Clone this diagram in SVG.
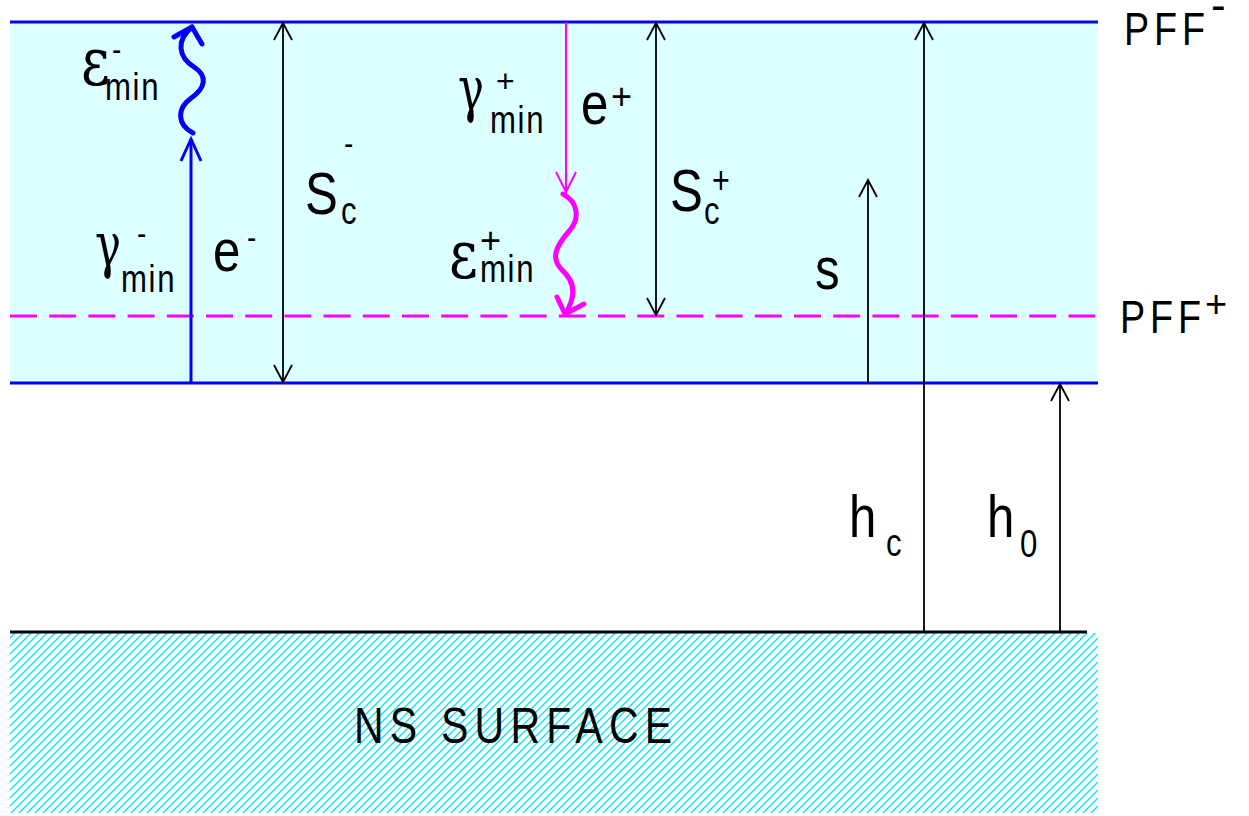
<svg xmlns="http://www.w3.org/2000/svg" width="1249" height="816" viewBox="0 0 1249 816">
<defs>
<style>
text{font-family:"Liberation Sans",Arial,sans-serif;fill:#000}
.big{font-size:60px}
.sub{font-size:38px;letter-spacing:2px}
.sup{font-size:34px}
.gr{font-family:"DejaVu Serif","Liberation Serif",serif;font-size:62px}
.eps{font-family:"DejaVu Serif","Liberation Serif",serif;font-size:68px}
.blk{stroke:#000;stroke-width:1.8;fill:none}
.wave{fill:none;stroke-width:5;stroke-linecap:round;stroke-linejoin:round}
</style>
<pattern id="hatch" patternUnits="userSpaceOnUse" width="8" height="8">
<path d="M-1,9 L9,-1 M-1,1 L1,-1 M7,9 L9,7" stroke="#00E6F0" stroke-width="1.3"/>
</pattern>
<marker id="ak" markerUnits="userSpaceOnUse" orient="auto-start-reverse" markerWidth="40" markerHeight="40" refX="0" refY="0" viewBox="-20 -20 40 40" overflow="visible">
<path d="M-17,-9 L0,0 L-17,9" fill="none" stroke="#000" stroke-width="1.8"/>
</marker>
<marker id="ab" markerUnits="userSpaceOnUse" orient="auto" markerWidth="40" markerHeight="40" refX="0" refY="0" viewBox="-20 -20 40 40" overflow="visible">
<path d="M-22,-10 L0,0 L-22,10" fill="none" stroke="#0000FF" stroke-width="3"/>
</marker>
<marker id="am" markerUnits="userSpaceOnUse" orient="auto" markerWidth="40" markerHeight="40" refX="0" refY="0" viewBox="-20 -20 40 40" overflow="visible">
<path d="M-20,-10 L0,0 L-20,10" fill="none" stroke="#FF00FF" stroke-width="2"/>
</marker>
</defs>

<g id="band">
<rect x="10" y="22" width="1088" height="361" fill="#DCFFFF"/>
</g>
<g id="ns-surface">
<rect x="10" y="633" width="1088" height="180" fill="url(#hatch)"/>
<line x1="10" y1="632" x2="1087" y2="632" stroke="#000" stroke-width="3"/>
<text transform="translate(354,743) scale(0.82,1)" style="font-size:50px;letter-spacing:7.6px">NS SURFACE</text>
</g>
<g id="pff-minus">
<line x1="10" y1="22" x2="1098" y2="22" stroke="#0000FF" stroke-width="3"/>
<text transform="translate(1124,45) scale(0.82,1)" style="font-size:46px;letter-spacing:6px">PFF</text>
<text x="1211" y="20" style="font-size:44px">-</text>
</g>
<g id="pff-plus">
<line x1="10" y1="316" x2="1098" y2="316" stroke="#FF00FF" stroke-width="3" stroke-dasharray="27 12.2"/>
<text transform="translate(1120,333) scale(0.82,1)" style="font-size:46px;letter-spacing:6px">PFF</text>
<text x="1205" y="317" style="font-size:38px">+</text>
</g>
<g id="base">
<line x1="10" y1="383" x2="1098" y2="383" stroke="#0000FF" stroke-width="3"/>
</g>

<g id="connectors">
<line x1="191" y1="383" x2="191" y2="139" stroke="#0000FF" stroke-width="3" marker-end="url(#ab)"/>
<path class="wave" stroke="#0000FF" d="M193,133 C176,124 178,108 190,99 C206,88 208,76 194,67 C178,57 176,40 192,27"/>
<path class="wave" stroke="#0000FF" d="M174,37 L192,27 L202,44"/>
<line class="blk" x1="283" y1="23" x2="283" y2="382" marker-start="url(#ak)" marker-end="url(#ak)"/>
<line x1="566" y1="22" x2="566" y2="192" stroke="#FF00FF" stroke-width="2" marker-end="url(#am)"/>
<path class="wave" stroke="#FF00FF" d="M563,194 C578,202 580,218 570,230 C556,246 550,258 562,270 C578,284 574,300 565,314"/>
<path class="wave" stroke="#FF00FF" d="M557,297 L565,314 L584,304"/>
<line class="blk" x1="656" y1="23" x2="656" y2="315" marker-start="url(#ak)" marker-end="url(#ak)"/>
<line class="blk" x1="868" y1="383" x2="868" y2="180" marker-end="url(#ak)"/>
<line class="blk" x1="924" y1="632" x2="924" y2="23" marker-end="url(#ak)"/>
<line class="blk" x1="1060" y1="632" x2="1060" y2="384" marker-end="url(#ak)"/>
</g>

<g id="label-eps-minus">
<text class="eps" transform="translate(81,85) scale(0.82,1)">ε</text>
<text class="sub" transform="translate(105,100) scale(0.82,1)">min</text>
<text class="sup" transform="translate(112,61) scale(0.82,1)">-</text>
</g>
<g id="label-gamma-minus">
<text class="gr" transform="translate(95,266) scale(0.7,1)">γ</text>
<text class="sub" transform="translate(121,292) scale(0.82,1)">min</text>
<text class="sup" transform="translate(137,245) scale(0.82,1)">-</text>
</g>
<g id="label-e-minus">
<text class="big" transform="translate(213,271) scale(0.82,1)">e</text>
<text class="sup" transform="translate(247,249) scale(0.82,1)">-</text>
</g>
<g id="label-sc-minus">
<text class="big" transform="translate(305,214) scale(0.82,1)">S</text>
<text class="sub" transform="translate(341,224) scale(0.82,1)">c</text>
<text class="sup" transform="translate(344,155) scale(0.82,1)">-</text>
</g>
<g id="label-gamma-plus">
<text class="gr" transform="translate(458,110) scale(0.7,1)">γ</text>
<text class="sub" transform="translate(490,133) scale(0.82,1)">min</text>
<text x="496" y="92" style="font-size:32px">+</text>
</g>
<g id="label-e-plus">
<text class="big" transform="translate(581,124) scale(0.82,1)">e</text>
<text x="611" y="109" style="font-size:36px">+</text>
</g>
<g id="label-eps-plus">
<text class="eps" transform="translate(449,278) scale(0.82,1)">ε</text>
<text class="sub" transform="translate(480,282) scale(0.82,1)">min</text>
<text x="480" y="253" style="font-size:36px">+</text>
</g>
<g id="label-sc-plus">
<text class="big" transform="translate(670,211) scale(0.82,1)">S</text>
<text class="sub" transform="translate(704,224) scale(0.82,1)">c</text>
<text transform="translate(712,193) scale(0.8,1)" style="font-size:38px">+</text>
</g>
<g id="label-s">
<text class="big" transform="translate(815,289) scale(0.82,1)">s</text>
</g>
<g id="label-hc">
<text class="big" transform="translate(849,537) scale(0.82,1)">h</text>
<text class="sub" transform="translate(886,556) scale(0.82,1)">c</text>
</g>
<g id="label-h0">
<text class="big" transform="translate(987,537) scale(0.82,1)">h</text>
<text class="sub" transform="translate(1020,557) scale(0.82,1)">0</text>
</g>
</svg>
